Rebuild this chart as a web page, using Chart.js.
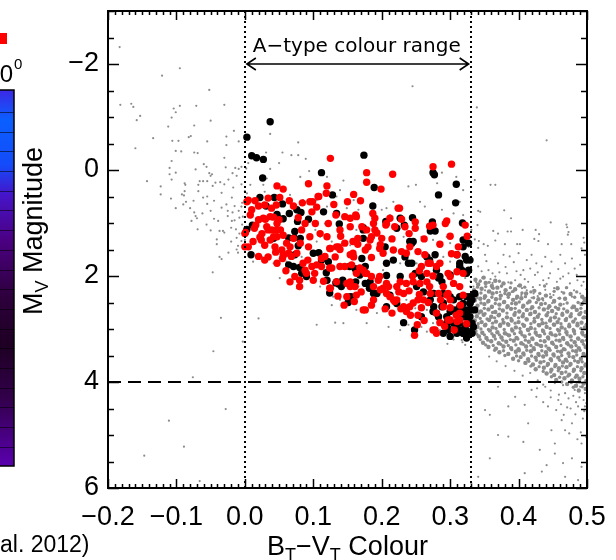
<!DOCTYPE html>
<html>
<head>
<meta charset="utf-8">
<script src="https://cdn.jsdelivr.net/npm/chart.js@4.4.0/dist/chart.umd.min.js"></script>
<style>
  html, body { margin: 0; padding: 0; background: #fff; }
  #wrap { width: 616px; height: 560px; }
</style>
</head>
<body>
<div id="wrap"><canvas id="hrChart" width="616" height="560"></canvas></div>
<script>
// axis ticks
const colourTicks = [-0.2, -0.1, 0.0, 0.1, 0.2, 0.3, 0.4, 0.5];
const magTicks = [-2, 0, 2, 4, 6];
const aTypeRange = [0.0, 0.33];
const magLimit = 4;

// A-type stars (red and black groups)
const redStars = [
  [0.125,-0.22],[0.178,0.05],[0.178,0.23],[0.216,0.08],[0.199,0.36],[0.275,-0.06],[0.302,-0.11],[0.093,0.26],
  [0.120,0.30],[0.119,0.44],[0.047,0.30],[0.056,0.36],[0.107,0.50],[0.095,0.60],[0.084,0.62],[0.159,0.46],
  [0.169,0.58],[0.005,0.57],[0.015,0.58],[0.034,0.53],[0.029,0.66],[0.039,0.72],[0.051,0.52],[0.001,1.18],
  [0.000,1.45],[0.008,0.85],[0.020,0.94],[0.027,0.91],[0.037,0.88],[0.047,1.01],[0.032,1.07],[0.039,1.13],
  [0.022,1.27],[0.024,1.32],[0.037,1.32],[0.047,1.26],[0.056,1.23],[0.061,1.38],[0.054,1.51],[0.056,1.60],
  [0.064,1.57],[0.068,1.63],[0.076,1.57],[0.020,1.63],[0.029,1.70],[0.047,1.76],[0.066,2.11],[0.080,2.08],
  [0.090,1.95],[0.098,1.82],[0.085,1.76],[0.112,1.82],[0.124,1.85],[0.117,1.63],[0.124,1.48],[0.137,1.45],
  [0.146,1.38],[0.158,1.57],[0.122,1.01],[0.133,0.85],[0.146,0.88],[0.154,0.91],[0.163,0.88],[0.171,1.07],
  [0.178,1.13],[0.188,1.01],[0.190,1.13],[0.207,1.01],[0.219,1.07],[0.224,0.72],[0.212,0.91],[0.234,1.07],
  [0.249,1.10],[0.270,1.06],[0.275,1.04],[0.295,0.96],[0.322,1.04],[0.302,1.58],[0.193,1.19],[0.198,1.41],
  [0.180,1.45],[0.217,1.51],[0.236,1.57],[0.241,1.45],[0.258,1.82],[0.266,1.95],[0.271,1.76],[0.280,1.82],
  [0.297,1.95],[0.310,1.92],[0.319,1.95],[0.176,1.95],[0.163,1.95],[0.156,1.79],[0.139,1.82],[0.134,2.11],
  [0.124,2.23],[0.163,2.36],[0.188,2.20],[0.198,2.26],[0.207,2.14],[0.222,2.20],[0.236,2.14],[0.246,2.11],
  [0.232,2.33],[0.217,2.45],[0.232,2.58],[0.246,2.51],[0.261,2.45],[0.271,2.33],[0.290,2.20],[0.297,2.33],
  [0.300,2.45],[0.290,2.58],[0.280,2.70],[0.300,2.83],[0.310,2.86],[0.314,2.70],[0.278,3.02],[0.176,2.64],
  [0.188,2.45],[0.207,2.33],[0.222,2.45],[0.187,0.82],[0.190,0.91],[0.185,1.26],[0.183,1.32],[0.176,1.51],
  [0.206,1.04],[0.226,0.72],[0.229,0.93],[0.249,0.98],[0.293,1.01],[0.162,0.85],[0.165,1.29],[0.158,1.35],
  [0.154,1.60],[0.200,1.29],[0.197,1.48],[0.202,1.57],[0.229,1.54],[0.253,1.54],[0.263,1.60],[0.268,1.76],
  [0.285,1.76],[0.310,1.60],[0.300,2.01],[0.305,2.14],[0.314,2.20],[0.319,2.36],[0.168,1.85],[0.173,1.89],
  [0.178,1.95],[0.185,2.01],[0.197,2.01],[0.154,2.20],[0.202,2.23],[0.210,2.20],[0.227,2.11],[0.256,2.14],
  [0.266,2.11],[0.212,2.39],[0.219,2.48],[0.241,2.58],[0.253,2.45],[0.283,2.33],[0.295,2.36],[0.309,2.74],
  [0.297,2.83],[0.314,2.83],[0.275,3.02],[0.280,3.08],[0.253,2.74],[0.173,2.64],[0.003,0.60],[0.020,0.68],
  [0.046,0.66],[0.071,0.68],[0.099,0.60],[0.108,0.50],[0.030,0.93],[0.016,1.04],[0.042,0.89],[0.050,0.94],
  [0.046,1.13],[0.034,1.13],[0.052,1.13],[0.025,1.20],[0.042,1.26],[0.000,1.20],[0.005,1.45],[0.029,1.42],
  [0.044,1.45],[0.057,1.60],[0.055,1.67],[0.034,1.64],[0.071,1.29],[0.066,1.45],[0.083,1.13],[0.088,1.01],
  [0.098,0.79],[0.103,1.01],[0.110,1.20],[0.095,1.26],[0.093,1.45],[0.081,1.38],[0.073,2.01],[0.088,1.89],
  [0.105,1.79],[0.125,1.48],[0.134,1.45],[0.139,1.50],[0.120,1.26],[0.139,1.13],[0.154,1.07],[0.132,1.64],
  [0.159,1.64],[0.154,2.11],[0.161,2.20],[0.125,2.23],[0.149,2.14],[0.112,1.67],[0.127,1.85],[0.146,1.82],
  [0.149,2.39],[0.080,2.20],[0.100,2.08],[0.248,3.12],[0.236,2.67],[0.205,2.62],[0.215,2.70],[0.228,2.62],
  [0.242,2.74],[0.258,2.60],[0.268,2.50],[0.285,2.88],[0.292,2.95],[0.306,3.02],[0.262,2.84],[0.252,2.92],
  [0.225,2.30],[0.240,2.28],[0.255,2.35],[0.270,2.20],[0.286,2.45],[0.195,2.08],[0.185,2.55],[0.160,2.48],
  [0.145,2.55],[0.136,2.38],[0.170,2.30],[0.115,2.10],[0.102,1.95],[0.092,1.70],[0.060,1.90],[0.045,1.55],
  [0.012,1.35],[0.010,0.75],[0.014,1.10],[0.065,0.58],[0.078,0.90],[0.105,0.70],[0.130,0.65],[0.150,0.60],
  [0.140,1.25],[0.165,1.40],[0.185,1.65],[0.215,1.30],[0.240,1.20],[0.262,1.30],[0.285,1.40],[0.300,1.25],
  [0.312,1.45],[0.325,1.25],[0.255,1.90],[0.275,2.00],[0.245,2.00],[0.315,2.55],[0.324,2.90],[0.300,2.60]
];
const blackStars = [
  [0.037,-0.91],[0.003,-0.62],[0.010,-0.27],[0.017,-0.23],[0.027,-0.20],[0.026,0.15],[0.174,-0.28],[0.112,0.05],
  [0.275,0.05],[0.277,0.09],[0.309,0.27],[0.189,0.33],[0.283,0.47],[0.308,0.62],[0.187,0.68],[0.128,0.47],
  [0.022,0.52],[0.043,0.52],[0.055,0.64],[0.031,0.68],[0.047,0.84],[0.065,0.82],[0.076,0.75],[0.082,0.80],
  [0.093,0.93],[0.077,0.97],[0.115,0.79],[0.134,0.82],[0.048,0.90],[0.056,0.92],[0.011,1.04],[0.003,1.12],
  [0.138,1.02],[0.173,1.09],[0.227,0.91],[0.245,0.90],[0.271,1.15],[0.278,1.15],[0.274,0.98],[0.318,1.00],
  [0.233,1.04],[0.064,1.28],[0.072,1.28],[0.081,1.29],[0.042,1.29],[0.073,1.16],[0.078,1.43],[0.205,1.45],
  [0.244,1.38],[0.009,1.60],[0.064,1.79],[0.071,1.82],[0.080,1.84],[0.073,1.60],[0.100,1.57],[0.112,1.70],
  [0.122,1.73],[0.108,1.56],[0.119,1.94],[0.120,2.08],[0.134,2.11],[0.143,2.08],[0.133,2.13],[0.137,2.15],
  [0.153,1.82],[0.162,2.11],[0.124,2.32],[0.151,2.40],[0.155,2.39],[0.151,2.50],[0.141,2.20],[0.161,1.86],
  [0.163,1.92],[0.090,2.01],[0.083,1.95],[0.207,1.99],[0.176,1.82],[0.182,2.23],[0.193,2.33],[0.207,2.58],
  [0.232,2.88],[0.248,3.02],[0.258,2.77],[0.297,2.99],[0.319,3.08],[0.173,1.13],[0.173,1.29],[0.171,1.67],
  [0.168,1.98],[0.176,2.14],[0.183,2.20],[0.188,2.33],[0.183,2.11],[0.206,0.97],[0.207,1.76],[0.222,1.10],
  [0.217,1.70],[0.227,2.01],[0.234,1.64],[0.239,1.76],[0.241,1.35],[0.246,1.35],[0.244,1.76],[0.249,1.95],
  [0.251,2.20],[0.258,2.01],[0.261,2.30],[0.266,1.64],[0.270,1.70],[0.278,1.60],[0.280,1.89],[0.283,2.04],
  [0.288,2.11],[0.290,2.33],[0.300,2.39],[0.305,2.45],[0.314,2.39],[0.319,2.52],[0.322,2.64],[0.324,2.70],
  [0.327,2.77],[0.331,2.64],[0.329,2.52],[0.319,2.77],[0.314,2.89],[0.309,2.92],[0.322,2.96],[0.327,3.05],
  [0.300,3.14],[0.319,1.32],[0.324,1.70],[0.327,1.89],[0.314,1.82],[0.212,2.36],[0.222,2.52],[0.275,2.67],
  [0.283,2.77],[0.288,2.58],[0.305,2.64],[0.329,2.89],[0.329,2.39],[0.271,2.45],[0.276,2.58],[0.280,2.70],
  [0.290,2.51],[0.295,2.77],[0.300,2.67],[0.310,2.64],[0.314,2.58],[0.319,2.70],[0.322,2.77],[0.327,2.64],
  [0.329,2.51],[0.329,2.77],[0.332,2.89],[0.334,2.96],[0.319,3.08],[0.314,3.02],[0.297,3.02],[0.295,2.89],
  [0.305,2.89],[0.276,2.33],[0.285,2.01],[0.300,1.98],[0.317,1.89],[0.324,1.95],[0.314,1.76],[0.322,1.63],
  [0.329,1.70],[0.319,1.45],[0.327,1.38],[0.310,1.60],[0.332,3.08],[0.324,3.17],[0.310,3.08],[0.290,3.08],
  [0.332,2.45],[0.324,2.39],[0.336,2.64],[0.336,2.33]
];

// background stars (grey)
const greyHot = [
  [-0.183,-2.32],[-0.121,-1.78],[-0.095,-1.92],[-0.052,-1.51],[-0.182,-1.23],[-0.166,-1.25],[-0.163,-1.19],
  [-0.153,-1.02],[-0.158,-0.94],[-0.104,-1.16],[-0.101,-1.09],[-0.095,-1.21],[-0.071,-1.21],[-0.030,-1.23],
  [-0.107,-0.99],[-0.112,-0.82],[-0.074,-0.84],[-0.050,-0.93],[-0.016,-0.74],[-0.134,-0.60],[-0.160,-0.41],
  [-0.106,-0.55],[-0.097,-0.55],[-0.082,-0.62],[-0.079,-0.64],[-0.055,-0.54],[-0.027,-0.63],[-0.027,-0.47],
  [-0.009,-0.54],[-0.101,-0.36],[-0.093,-0.35],[-0.074,-0.33],[-0.069,-0.32],[-0.030,-0.23],[-0.107,-0.17],
  [-0.143,0.21],[-0.110,-0.04],[-0.110,0.08],[-0.107,0.18],[-0.101,0.05],[-0.072,-0.01],[-0.060,-0.11],
  [-0.056,-0.06],[-0.028,-0.05],[-0.018,0.06],[-0.014,-0.04],[-0.009,-0.02],[-0.005,-0.06],[-0.088,0.25],
  [-0.087,0.28],[-0.068,0.28],[-0.066,0.21],[-0.061,0.21],[-0.055,0.21],[-0.052,0.06],[-0.050,0.11],
  [-0.048,0.08],[-0.047,0.30],[-0.043,0.24],[-0.036,0.23],[-0.030,0.27],[-0.123,0.31],[-0.123,0.46],
  [-0.108,0.54],[-0.101,0.72],[-0.092,0.46],[-0.089,0.48],[-0.090,0.65],[-0.086,0.60],[-0.080,0.72],
  [-0.075,0.58],[-0.074,0.80],[-0.072,0.87],[-0.070,0.91],[-0.062,0.82],[-0.055,0.50],[-0.055,0.64],
  [-0.050,0.77],[-0.045,0.92],[-0.050,1.14],[-0.037,1.15],[-0.032,1.15],[-0.030,1.18],[-0.041,1.31],
  [-0.041,1.40],[-0.020,1.09],[-0.013,1.12],[-0.012,1.28],[-0.034,0.43],[-0.027,0.65],[-0.025,0.77],
  [-0.019,0.52],[-0.015,0.68],[-0.009,0.77],[-0.008,0.90],[-0.004,1.03],[-0.005,0.27],[0.000,0.40],
  [-0.017,0.33],[-0.025,0.87],[-0.019,0.96],[-0.010,1.43],[-0.005,1.34],[-0.069,1.12],[-0.056,1.03],
  [-0.078,0.96],[-0.039,0.96],[-0.045,0.58],[-0.034,0.71],[-0.024,0.18],[-0.012,0.11],[-0.088,0.40],
  [-0.068,0.40],[-0.061,0.52],[-0.037,1.64],[-0.034,1.68],[-0.047,1.93],[-0.024,1.56],[-0.010,1.56],
  [-0.035,2.79],[-0.046,3.42],[-0.076,3.91],[-0.028,4.51],[-0.111,4.73],[-0.089,5.22],[-0.147,5.39],
  [-0.066,5.87],[-0.003,3.24],[-0.015,0.95],[-0.008,1.20],[-0.020,1.35],[-0.012,1.50],[-0.004,0.62],[-0.018,0.80]
];
const greyBand = [
  [0.037,-0.68],[0.055,-0.33],[0.068,-0.28],[0.078,-0.28],[0.089,-0.21],[0.050,-0.13],[0.031,-0.33],[0.005,-0.13],
  [0.002,-0.03],[0.081,0.13],[0.144,0.20],[0.094,0.02],[0.037,-0.02],[0.032,0.16],[0.027,0.28],[0.029,0.41],
  [0.008,0.28],[0.003,0.44],[0.066,0.47],[0.085,0.57],[0.105,0.57],[0.120,0.69],[0.149,0.72],[0.154,0.94],
  [0.117,1.01],[0.103,1.13],[0.110,1.26],[0.127,1.35],[0.093,1.48],[0.105,1.35],[0.083,1.64],[0.061,1.73],
  [0.051,1.67],[0.042,1.76],[0.025,1.64],[0.012,1.73],[0.000,1.32],[-0.003,0.88],[-0.005,0.69],[-0.002,1.45],
  [0.051,2.04],[0.081,2.20],[0.103,2.08],[0.110,2.20],[0.098,1.82],[0.129,2.39],[0.139,2.45],[0.127,2.55],
  [0.163,2.64],[0.076,2.23],[0.105,2.92],[0.132,2.88],[0.144,2.89],[0.020,2.80],[0.121,2.08],[0.161,2.33],
  [0.166,2.20],[0.154,1.42],[0.163,1.13],[0.134,0.50],[0.120,0.13],[0.139,0.38],[0.159,0.57],[0.166,0.75],
  [0.256,0.60],[0.239,0.31],[0.250,0.28],[0.288,0.05],[0.281,0.25],[0.309,0.13],[0.319,0.38],[0.314,0.60],
  [0.288,0.75],[0.263,0.69],[0.217,0.60],[0.207,0.72],[0.200,0.75],[0.212,0.85],[0.305,0.82],[0.319,0.85],
  [0.324,1.07],[0.295,1.26],[0.300,1.38],[0.275,1.32],[0.258,1.26],[0.232,1.26],[0.214,1.26],[0.183,1.64],
  [0.300,1.73],[0.290,1.64],[0.251,1.76],[0.227,1.76],[0.202,1.89],[0.212,2.20],[0.270,2.14],[0.266,2.33],
  [0.236,2.45],[0.249,2.61],[0.266,2.64],[0.275,2.89],[0.258,2.96],[0.239,2.92],[0.227,3.02],[0.210,2.96],
  [0.266,3.05],[0.285,3.02],[0.317,3.21],[0.305,3.14],[0.324,3.11],[0.178,2.89],[0.193,2.70],[0.202,2.67],
  [0.329,2.20],[0.322,2.04],[0.327,1.45],[0.331,1.13],[0.305,3.20],[0.318,3.25],[0.325,3.18],[0.312,2.20],
  [0.330,2.10],[0.322,3.30],[0.296,3.28],[0.245,-1.58],[0.078,-0.52]
];
const greyCool = [
  [0.339,-1.18],[0.441,-0.56],[0.336,0.19],[0.359,0.28],[0.366,0.28],[0.341,0.77],[0.344,0.79],[0.379,0.76],
  [0.389,0.91],[0.447,0.99],[0.470,1.03],[0.471,1.08],[0.473,1.17],[0.472,1.22],[0.340,1.04],[0.363,1.15],
  [0.370,1.20],[0.384,1.16],[0.389,1.16],[0.406,1.13],[0.425,1.13],[0.430,1.21],[0.495,1.28],[0.496,1.37],
  [0.336,1.31],[0.342,1.34],[0.349,1.40],[0.355,1.43],[0.366,1.33],[0.380,1.40],[0.398,1.40],[0.402,1.40],
  [0.423,1.30],[0.429,1.34],[0.443,1.40],[0.463,1.40],[0.477,1.40],[0.492,1.48],[0.341,1.47],[0.351,1.60],
  [0.370,1.76],[0.378,1.60],[0.387,1.63],[0.400,1.57],[0.412,1.70],[0.419,1.60],[0.426,1.76],[0.439,1.64],
  [0.448,1.73],[0.461,1.60],[0.468,1.76],[0.478,1.67],[0.490,1.79],[0.497,1.60],[0.341,1.82],[0.356,1.89],
  [0.366,2.01],[0.383,1.95],[0.395,2.08],[0.407,1.89],[0.414,2.11],[0.424,1.98],[0.436,2.08],[0.446,1.95],
  [0.456,2.11],[0.465,2.01],[0.475,2.14],[0.485,1.98],[0.495,2.11],[0.500,1.89],[0.351,2.14],[0.375,2.20],
  [0.390,2.30],[0.405,2.23],[0.422,2.33],[0.439,2.26],[0.451,2.36],[0.463,2.30],[0.478,2.39],[0.490,2.33],
  [0.434,1.82],[0.482,1.86],[0.373,2.30],[0.361,2.23],[0.344,2.08],[0.334,2.20],[0.419,4.15],[0.426,4.28],
  [0.439,4.09],[0.453,4.02],[0.468,4.21],[0.482,4.15],[0.495,4.34],[0.497,4.46],[0.500,4.78],[0.478,4.78],
  [0.463,4.72],[0.468,4.91],[0.414,4.78],[0.351,4.53],[0.358,4.62],[0.385,4.46],[0.409,4.43],[0.385,5.03],
  [0.370,5.00],[0.407,5.13],[0.431,5.28],[0.448,4.91],[0.453,5.16],[0.453,5.35],[0.441,5.57],[0.465,5.53],
  [0.478,5.44],[0.492,5.16],[0.358,5.44],[0.409,5.72],[0.434,5.69],[0.468,5.79],[0.487,5.85],[0.341,5.79],
  [0.331,5.91],[0.492,5.60],[0.497,4.21],[0.487,4.46],[0.443,4.46],[0.395,4.28],[0.370,4.09],[0.458,4.34],
  [0.490,4.09],[0.500,4.02],[0.347,2.04],[0.362,2.13],[0.376,2.19],[0.391,2.29],[0.404,2.36],[0.419,2.41],
  [0.436,2.46],[0.449,2.51],[0.466,2.53],[0.479,2.56],[0.494,2.49],[0.353,1.72],[0.362,1.95],[0.381,1.83],
  [0.393,1.74],[0.403,1.98],[0.417,1.86],[0.431,2.17],[0.444,2.04],[0.458,1.87],[0.471,2.22],[0.486,2.08],
  [0.499,2.25],[0.357,3.52],[0.368,3.61],[0.381,3.70],[0.394,3.79],[0.406,3.88],[0.417,3.83],[0.428,3.97],
  [0.436,4.05],[0.447,4.16],[0.459,4.24],[0.473,4.31],[0.484,4.38],[0.496,4.55],[0.476,4.50],[0.462,4.42],
  [0.346,1.91],[0.359,2.06],[0.372,1.93],[0.385,2.12],[0.397,1.91],[0.409,2.06],[0.421,2.21],[0.428,1.93],
  [0.441,2.15],[0.452,2.23],[0.461,2.05],[0.473,1.95],[0.481,2.27],[0.492,2.18],[0.498,2.41],[0.458,2.42],
  [0.446,2.34],[0.428,2.38],[0.412,2.27],[0.399,2.19],[0.383,2.36],[0.367,2.42],[0.338,2.12],[0.351,2.27],
  [0.465,4.06],[0.471,4.48],[0.483,4.61],[0.489,4.29],[0.494,4.69],[0.499,4.40],[0.480,4.26],[0.466,4.62],
  [0.455,4.53],[0.447,4.29],[0.436,4.38],[0.427,4.12],[0.491,4.95],[0.499,5.04],[0.486,5.08],[0.474,4.97]
];
// dense part of the cool field cloud
const greyCoolCore = [
  [0.337,2.07],[0.349,2.03],[0.366,2.09],
  [0.341,2.16],[0.352,2.13],[0.361,2.19],[0.378,2.14],[0.402,2.18],
  [0.335,2.27],[0.346,2.24],[0.357,2.29],[0.369,2.22],[0.381,2.27],[0.395,2.25],[0.423,2.28],[0.457,2.23],
  [0.339,2.36],[0.351,2.38],[0.362,2.33],[0.374,2.37],[0.386,2.34],[0.398,2.39],[0.411,2.33],[0.440,2.37],[0.476,2.34],[0.493,2.39],
  [0.336,2.46],[0.344,2.43],[0.356,2.47],[0.367,2.44],[0.379,2.49],[0.392,2.45],[0.404,2.42],[0.416,2.48],[0.429,2.44],[0.452,2.47],[0.468,2.43],[0.497,2.46],
  [0.340,2.56],[0.350,2.53],[0.361,2.58],[0.372,2.54],[0.384,2.57],[0.396,2.52],[0.407,2.56],[0.420,2.59],[0.433,2.53],[0.445,2.57],[0.461,2.54],[0.481,2.58],[0.492,2.53],
  [0.335,2.64],[0.345,2.67],[0.356,2.63],[0.366,2.68],[0.377,2.65],[0.389,2.62],[0.401,2.67],[0.412,2.64],[0.424,2.68],[0.437,2.63],[0.449,2.66],[0.458,2.62],[0.471,2.67],[0.485,2.64],[0.498,2.68],
  [0.339,2.76],[0.349,2.73],[0.360,2.77],[0.371,2.74],[0.383,2.78],[0.394,2.73],[0.406,2.76],[0.417,2.72],[0.428,2.77],[0.441,2.74],[0.453,2.78],[0.464,2.73],[0.476,2.76],[0.489,2.72],[0.496,2.78],
  [0.336,2.84],[0.346,2.87],[0.357,2.83],[0.367,2.86],[0.378,2.88],[0.390,2.84],[0.400,2.87],[0.412,2.82],[0.423,2.86],[0.435,2.89],[0.446,2.84],[0.457,2.87],[0.469,2.83],[0.480,2.86],[0.492,2.88],
  [0.340,2.96],[0.351,2.93],[0.362,2.97],[0.373,2.94],[0.385,2.92],[0.396,2.97],[0.408,2.94],[0.418,2.98],[0.430,2.93],[0.441,2.96],[0.452,2.92],[0.463,2.97],[0.474,2.95],[0.486,2.93],[0.497,2.97],
  [0.337,3.04],[0.347,3.07],[0.358,3.03],[0.369,3.06],[0.380,3.08],[0.391,3.03],[0.403,3.06],[0.414,3.02],[0.425,3.07],[0.436,3.04],[0.447,3.08],[0.459,3.03],[0.470,3.06],[0.481,3.04],[0.493,3.07],
  [0.342,3.14],[0.353,3.17],[0.364,3.13],[0.375,3.16],[0.386,3.12],[0.397,3.17],[0.409,3.14],[0.420,3.18],[0.431,3.13],[0.443,3.16],[0.454,3.12],[0.465,3.17],[0.476,3.14],[0.487,3.18],[0.498,3.13],
  [0.348,3.26],[0.360,3.23],[0.371,3.27],[0.382,3.24],[0.393,3.22],[0.404,3.27],[0.415,3.24],[0.426,3.28],[0.438,3.23],[0.449,3.26],[0.460,3.22],[0.471,3.27],[0.482,3.25],[0.493,3.23],
  [0.356,3.34],[0.367,3.37],[0.378,3.33],[0.389,3.36],[0.400,3.38],[0.411,3.33],[0.422,3.36],[0.433,3.32],[0.444,3.37],[0.455,3.34],[0.466,3.38],[0.477,3.33],[0.488,3.36],[0.498,3.34],
  [0.372,3.44],[0.385,3.47],[0.396,3.43],[0.407,3.46],[0.418,3.42],[0.429,3.47],[0.440,3.44],[0.451,3.48],[0.462,3.43],[0.473,3.46],[0.484,3.42],[0.495,3.47],
  [0.392,3.56],[0.403,3.53],[0.414,3.57],[0.425,3.54],[0.436,3.52],[0.447,3.57],[0.458,3.54],[0.469,3.58],[0.480,3.53],[0.491,3.56],
  [0.410,3.64],[0.421,3.67],[0.432,3.63],[0.443,3.66],[0.454,3.68],[0.465,3.63],[0.476,3.66],[0.487,3.62],[0.498,3.67],
  [0.425,3.76],[0.437,3.73],[0.448,3.77],[0.459,3.74],[0.470,3.72],[0.481,3.77],[0.492,3.74],
  [0.441,3.84],[0.452,3.87],[0.463,3.83],[0.474,3.86],[0.485,3.88],[0.496,3.83],
  [0.455,3.96],[0.467,3.93],[0.478,3.97],[0.489,3.94],[0.499,3.98],
  [0.471,4.04],[0.484,4.07],[0.495,4.03],
  [0.488,4.16],[0.498,4.13]
];
// stars filling the gaps of the dense cloud
const greyCoolFill = [
  [0.344,2.10],[0.357,2.12],[0.372,2.10],[0.389,2.13],
  [0.340,2.21],[0.352,2.20],[0.363,2.23],[0.375,2.19],[0.388,2.22],[0.409,2.21],[0.438,2.19],[0.470,2.22],
  [0.345,2.32],[0.356,2.30],[0.368,2.31],[0.380,2.33],[0.392,2.29],[0.405,2.32],[0.418,2.30],[0.431,2.33],[0.452,2.29],[0.466,2.32],[0.485,2.30],
  [0.339,2.41],[0.350,2.42],[0.361,2.40],[0.373,2.43],[0.385,2.40],[0.397,2.42],[0.410,2.39],[0.422,2.41],[0.435,2.43],[0.447,2.40],[0.460,2.42],[0.482,2.40],[0.495,2.42],
  [0.345,2.51],[0.355,2.49],[0.366,2.52],[0.378,2.50],[0.390,2.52],[0.401,2.49],[0.413,2.51],[0.426,2.50],[0.439,2.52],[0.452,2.49],[0.471,2.51],[0.487,2.50],
  [0.337,2.60],[0.350,2.61],[0.361,2.59],[0.372,2.62],[0.383,2.60],[0.395,2.61],[0.406,2.59],[0.418,2.62],[0.430,2.60],[0.443,2.61],[0.454,2.59],[0.466,2.62],[0.478,2.60],[0.491,2.61],
  [0.342,2.70],[0.351,2.71],[0.362,2.69],[0.372,2.72],[0.383,2.70],[0.395,2.69],[0.407,2.71],[0.418,2.70],[0.430,2.72],[0.443,2.69],[0.455,2.71],[0.464,2.70],[0.477,2.71],[0.491,2.69],
  [0.344,2.80],[0.354,2.81],[0.365,2.79],[0.377,2.82],[0.389,2.80],[0.400,2.79],[0.411,2.81],[0.423,2.80],[0.434,2.82],[0.447,2.79],[0.459,2.81],[0.470,2.80],[0.483,2.81],[0.494,2.79],
  [0.341,2.90],[0.352,2.91],[0.362,2.89],[0.373,2.91],[0.384,2.90],[0.395,2.89],[0.406,2.91],[0.418,2.90],[0.429,2.92],[0.440,2.89],[0.451,2.91],[0.462,2.90],[0.474,2.91],[0.486,2.89],[0.499,2.91],
  [0.345,3.00],[0.356,3.01],[0.367,2.99],[0.379,3.01],[0.390,3.00],[0.402,2.99],[0.413,3.01],[0.424,3.00],[0.435,3.02],[0.446,2.99],[0.457,3.01],[0.468,3.00],[0.480,3.01],[0.491,2.99],
  [0.339,3.10],[0.350,3.11],[0.361,3.09],[0.372,3.11],[0.383,3.10],[0.394,3.09],[0.405,3.11],[0.416,3.10],[0.427,3.12],[0.438,3.09],[0.449,3.11],[0.460,3.10],[0.471,3.11],[0.482,3.09],[0.494,3.11],
  [0.344,3.20],[0.355,3.21],[0.366,3.19],[0.377,3.21],[0.388,3.20],[0.399,3.19],[0.410,3.21],[0.421,3.20],[0.432,3.22],[0.444,3.19],[0.455,3.21],[0.466,3.20],[0.477,3.21],[0.488,3.19],[0.499,3.21],
  [0.352,3.30],[0.363,3.31],[0.374,3.29],[0.385,3.31],[0.396,3.30],[0.407,3.29],[0.418,3.31],[0.429,3.30],[0.440,3.32],[0.451,3.29],[0.462,3.31],[0.473,3.30],[0.484,3.31],[0.495,3.29],
  [0.365,3.40],[0.378,3.41],[0.390,3.39],[0.401,3.41],[0.412,3.40],[0.423,3.39],[0.434,3.41],[0.446,3.40],[0.457,3.42],[0.468,3.39],[0.479,3.41],[0.490,3.40],
  [0.380,3.50],[0.397,3.51],[0.408,3.49],[0.419,3.51],[0.430,3.50],[0.441,3.49],[0.452,3.51],[0.463,3.50],[0.474,3.52],[0.485,3.49],[0.497,3.51],
  [0.400,3.60],[0.415,3.61],[0.426,3.59],[0.437,3.61],[0.448,3.60],[0.460,3.59],[0.471,3.61],[0.482,3.60],[0.493,3.62],
  [0.418,3.70],[0.430,3.71],[0.442,3.69],[0.453,3.71],[0.464,3.70],[0.475,3.69],[0.486,3.71],[0.497,3.70],
  [0.436,3.80],[0.447,3.81],[0.458,3.79],[0.469,3.81],[0.480,3.80],[0.491,3.79],
  [0.448,3.90],[0.460,3.91],[0.472,3.89],[0.483,3.91],[0.494,3.90],
  [0.463,4.00],[0.477,4.01],[0.489,3.99],[0.499,4.02],
  [0.480,4.10],[0.493,4.09]
];

const toPoints = arr => arr.map(p => ({ x: p[0], y: p[1] }));
const fmtMinus = s => s.replace('-', '\u2212');
const axisFont = { family: '"Liberation Sans", Arial, sans-serif', size: 27 };

function drawParts(ctx, parts, size, x, y) {
  // parts: [text, isSubscript]; x is the centre of the whole string
  const sub = Math.round(size * 0.66);
  const widths = parts.map(([t, s]) => {
    ctx.font = (s ? sub : size) + 'px "Liberation Sans", Arial, sans-serif';
    return ctx.measureText(t).width;
  });
  let cx = x - widths.reduce((a, b) => a + b, 0) / 2;
  parts.forEach(([t, s], i) => {
    ctx.font = (s ? sub : size) + 'px "Liberation Sans", Arial, sans-serif';
    ctx.fillText(t, cx, y + (s ? size * 0.22 : 0));
    cx += widths[i];
  });
}

const decorations = {
  id: 'decorations',
  afterDatasetsDraw(chart) {
    const { ctx, chartArea: a, scales: { x, y } } = chart;
    ctx.save();
    ctx.strokeStyle = '#000';
    ctx.fillStyle = '#000';

    // dotted colour limits
    ctx.lineWidth = 2;
    ctx.setLineDash([2, 3]);
    aTypeRange.forEach(v => {
      const px = Math.round(x.getPixelForValue(v));
      ctx.beginPath(); ctx.moveTo(px, a.top); ctx.lineTo(px, a.bottom); ctx.stroke();
    });

    // dashed magnitude limit
    ctx.setLineDash([13, 7]);
    const py = Math.round(y.getPixelForValue(magLimit));
    ctx.beginPath(); ctx.moveTo(a.left, py); ctx.lineTo(a.right, py); ctx.stroke();
    ctx.setLineDash([]);

    // double arrow + label
    const x0 = x.getPixelForValue(aTypeRange[0]) + 2;
    const x1 = x.getPixelForValue(aTypeRange[1]) - 2;
    const ay = y.getPixelForValue(-2);
    ctx.lineWidth = 1.6;
    ctx.beginPath();
    ctx.moveTo(x0, ay); ctx.lineTo(x1, ay);
    ctx.moveTo(x0 + 9, ay - 6); ctx.lineTo(x0, ay); ctx.lineTo(x0 + 9, ay + 6);
    ctx.moveTo(x1 - 9, ay - 6); ctx.lineTo(x1, ay); ctx.lineTo(x1 - 9, ay + 6);
    ctx.stroke();
    ctx.font = '20px "DejaVu Sans", sans-serif';
    ctx.textAlign = 'center';
    ctx.textBaseline = 'alphabetic';
    ctx.fillText('A\u2212type colour range', (x0 + x1) / 2 - 1, ay - 12);

    // frame
    ctx.lineWidth = 2;
    ctx.strokeRect(a.left, a.top, a.right - a.left, a.bottom - a.top);

    // inward ticks on all four sides
    ctx.lineWidth = 1.5;
    ctx.beginPath();
    for (let i = 0; i <= 70; i++) {
      const v = -0.2 + i * 0.01;
      const px = Math.round(x.getPixelForValue(v)) + 0.5;
      const len = i % 10 === 0 ? 9 : 4;
      ctx.moveTo(px, a.bottom); ctx.lineTo(px, a.bottom - len);
      ctx.moveTo(px, a.top); ctx.lineTo(px, a.top + len);
    }
    for (let i = 0; i <= 18; i++) {
      const v = -3 + i * 0.5;
      const p = Math.round(y.getPixelForValue(v)) + 0.5;
      const len = (v % 2 === 0) ? 11 : 6;
      ctx.moveTo(a.left, p); ctx.lineTo(a.left + len, p);
      ctx.moveTo(a.right, p); ctx.lineTo(a.right - len, p);
    }
    ctx.stroke();
    ctx.restore();
  },
  afterDraw(chart) {
    const { ctx, chartArea: a } = chart;
    ctx.save();
    ctx.fillStyle = '#000';
    ctx.textAlign = 'left';
    ctx.textBaseline = 'alphabetic';

    // axis titles with subscripts
    drawParts(ctx, [['B', 0], ['T', 1], ['\u2212V', 0], ['T', 1], [' Colour', 0]], 27, (a.left + a.right) / 2, 555);
    ctx.save();
    ctx.translate(42, 231);
    ctx.rotate(-Math.PI / 2);
    drawParts(ctx, [['M', 0], ['V', 1], [' Magnitude', 0]], 27, 0, 0);
    ctx.restore();

    // edge of the neighbouring panel (colour bar and caption), cut off by the crop
    const g = ctx.createLinearGradient(0, 90, 0, 466);
    g.addColorStop(0.00, 'rgb(60,40,230)');
    g.addColorStop(0.08, 'rgb(10,95,255)');
    g.addColorStop(0.20, 'rgb(20,75,250)');
    g.addColorStop(0.28, 'rgb(70,20,200)');
    g.addColorStop(0.40, 'rgb(75,0,130)');
    g.addColorStop(0.55, 'rgb(45,0,60)');
    g.addColorStop(0.68, 'rgb(30,0,35)');
    g.addColorStop(0.82, 'rgb(50,0,75)');
    g.addColorStop(1.00, 'rgb(90,0,175)');
    ctx.fillStyle = g;
    ctx.fillRect(0, 90, 14, 376);
    ctx.strokeStyle = 'rgba(0,0,0,0.55)';
    ctx.lineWidth = 1;
    ctx.beginPath();
    for (let yy = 112; yy < 466; yy += 19.7) { ctx.moveTo(0, Math.round(yy) + 0.5); ctx.lineTo(14, Math.round(yy) + 0.5); }
    ctx.stroke();
    ctx.strokeStyle = '#000';
    ctx.lineWidth = 1.5;
    ctx.strokeRect(-2, 90, 16, 376);
    ctx.fillStyle = '#f00';
    ctx.fillRect(0, 33, 7, 11);
    ctx.fillStyle = '#000';
    ctx.font = '24px "Liberation Sans", Arial, sans-serif';
    ctx.textAlign = 'right';
    ctx.fillText('10', 13, 82);
    ctx.font = '15px "Liberation Sans", Arial, sans-serif';
    ctx.textAlign = 'left';
    ctx.fillText('0', 14, 69);
    ctx.font = '23px "Liberation Sans", Arial, sans-serif';
    ctx.fillText('al. 2012)', 0, 552);
    ctx.restore();
  }
};

const ctx = document.getElementById('hrChart').getContext('2d');
const hrChart = new Chart(ctx, {
  type: 'scatter',
  data: {
    datasets: [{
      label: 'A-type (red)',
      data: toPoints(redStars),
      backgroundColor: '#ff0000',
      borderWidth: 0,
      pointRadius: 3.7
    }, {
      label: 'A-type (black)',
      data: toPoints(blackStars),
      backgroundColor: '#000000',
      borderWidth: 0,
      pointRadius: 3.7
    }, {
      label: 'Field',
      data: toPoints(greyHot.concat(greyBand, greyCool)),
      backgroundColor: '#8c8c8c',
      borderWidth: 0,
      pointRadius: 1.1
    }, {
      label: 'Field (dense)',
      data: toPoints(greyCoolCore),
      backgroundColor: '#8c8c8c',
      borderWidth: 0,
      pointRadius: 2.2
    }, {
      label: 'Field (dense, fill)',
      data: toPoints(greyCoolFill),
      backgroundColor: '#8c8c8c',
      borderWidth: 0,
      pointRadius: 1.7
    }]
  },
  options: {
    responsive: false,
    animation: false,
    layout: { padding: { left: 0, top: 11, right: 29, bottom: 0 } },
    plugins: { legend: { display: false }, tooltip: { enabled: false } },
    scales: {
      x: {
        type: 'linear',
        min: -0.2,
        max: 0.5,
        grid: { display: false, drawTicks: false },
        border: { display: false },
        afterBuildTicks: scale => { scale.ticks = colourTicks.map(v => ({ value: v })); },
        afterFit: scale => { scale.height = 72; scale.paddingLeft = 0; scale.paddingRight = 0; },
        ticks: {
          autoSkip: false,
          maxRotation: 0,
          padding: 13,
          color: '#000',
          font: axisFont,
          callback: v => fmtMinus(Number(v).toFixed(1))
        }
      },
      y: {
        type: 'linear',
        min: -3,
        max: 6,
        reverse: true,
        grid: { display: false, drawTicks: false },
        border: { display: false },
        afterBuildTicks: scale => { scale.ticks = magTicks.map(v => ({ value: v })); },
        afterFit: scale => { scale.width = 108; scale.paddingTop = 0; scale.paddingBottom = 0; },
        ticks: {
          autoSkip: false,
          padding: 9,
          color: '#000',
          font: axisFont,
          callback: v => fmtMinus(String(v))
        }
      }
    }
  },
  plugins: [decorations]
});
</script>
</body>
</html>
